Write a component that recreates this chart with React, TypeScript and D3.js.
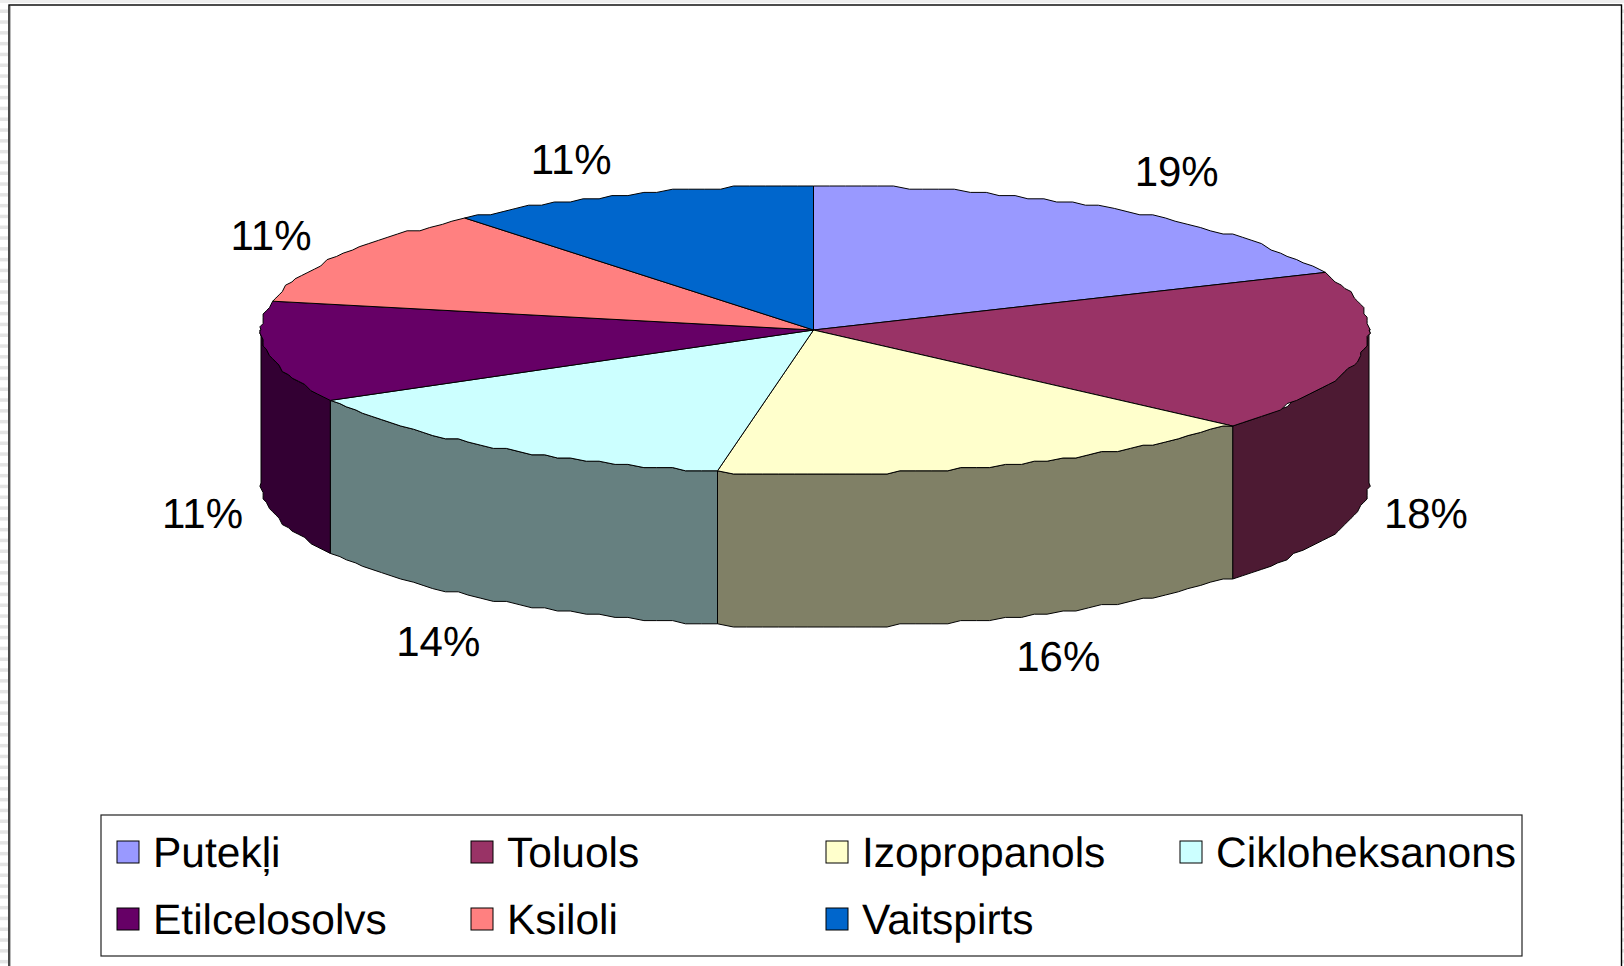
import React from "react";
import * as d3 from "d3";

const categories = ["Putekļi", "Toluols", "Izopropanols", "Cikloheksanons", "Etilcelosolvs", "Ksiloli", "Vaitspirts"];
const values = [18.6, 17.8, 16.4, 14.1, 11.2, 11.0, 10.9];
const percentLabels = ["19%", "18%", "16%", "14%", "11%", "11%", "11%"];
const colors = ["#9999FF", "#993366", "#FFFFCC", "#CCFFFF", "#660066", "#FF8080", "#0066CC"];

const W = 1624, H = 966;
const cx = 813.5, cy = 330, rxRight = 555.5, rxLeft = 552.5, ry = 144, depth = 153;
const SNAP = 3.2;
const STEP = Math.PI / 110;
const FONT = "'Liberation Sans', Arial, sans-serif";

// label offset from the rim point at the slice's middle angle (layout only)
const labelOffsets: [number, number][] = [[46.8, -15.3], [46, 3.4], [53.9, 11.3], [-42.5, 17.6], [-44.5, 3.1], [-50.7, -6.2], [-49.7, -9.3]];

const snap = (v: number) => Math.round(v / SNAP) * SNAP;
const rimX = (a: number) => {
  const s = Math.sin(a);
  return cx + (s < 0 ? rxLeft : rxRight) * s;
};
const rimY = (a: number) => cy - ry * Math.cos(a);

const samples = (a0: number, a1: number) => {
  const n = Math.max(2, Math.ceil(Math.abs(a1 - a0) / STEP));
  const pts = d3.range(n + 1).map((i) => a0 + ((a1 - a0) * i) / n);
  [Math.PI / 2, (3 * Math.PI) / 2].forEach((q) => {
    if (q > a0 && q < a1) pts.push(q);
  });
  return pts.sort((p, q) => p - q);
};
const rim = (a: number): [number, number] => {
  const sideways = Math.abs(Math.cos(a)) < 1e-9;
  return [sideways ? rimX(a) : cx + snap(rimX(a) - cx), cy + snap(rimY(a) - cy)];
};
const line = d3.line<[number, number]>().x((d) => d[0]).y((d) => d[1]);

const pieGen = d3.pie<number>().sort(null).value((d) => d);
const arcs = pieGen(values);

const darken = (c: string) => {
  const r = d3.rgb(c);
  return d3.rgb(r.r * 0.5, r.g * 0.5, r.b * 0.5).formatHex();
};

const columnsX = [117, 471, 826, 1180];
const rowsY = [841, 908];
const legendTextGap = 36;
const stripes = d3.range(9.5, H, 10.8);

export default function App() {
  const walls = arcs
    .map((a, i) => {
      const s = Math.max(a.startAngle, Math.PI / 2);
      const e = Math.min(a.endAngle, (3 * Math.PI) / 2);
      if (e <= s) return null;
      const top = samples(s, e).map(rim);
      const bottom = top.map(([x, y]) => [x, y + depth] as [number, number]).reverse();
      return { i, d: line([...top, ...bottom])! + "Z" };
    })
    .filter(Boolean) as { i: number; d: string }[];

  return (
    <svg width={W} height={H} style={{ position: "fixed", left: 0, top: 0, display: "block", background: "#fff" }}>
      <rect x={0} y={0} width={W} height={3} fill="#eeeeee" />
      {stripes.map((y) => (
        <g key={y}>
          <rect x={0} y={y} width={8} height={3.5} fill="#e4e4e4" />
          <rect x={1622} y={y} width={2} height={3.5} fill="#e4e4e4" />
        </g>
      ))}
      <rect x={9} y={5} width={1612.5} height={H + 20} fill="#fff" stroke="#000" strokeWidth={1.4} />
      <line x1={10.5} x2={10.5} y1={6} y2={H} stroke="#b8b8b8" strokeWidth={1} />

      {walls.map((w) => (
        <path key={w.i} d={w.d} fill={darken(colors[w.i])} stroke="#000" strokeWidth={1} strokeLinejoin="round" />
      ))}
      {arcs.map((a, i) => {
        const pts = samples(a.startAngle, a.endAngle).map(rim);
        return (
          <path
            key={i}
            d={line([[cx, cy], ...pts])! + "Z"}
            fill={colors[i]}
            stroke="#000"
            strokeWidth={1}
            strokeLinejoin="round"
          />
        );
      })}

      {arcs.map((a, i) => {
        const mid = (a.startAngle + a.endAngle) / 2;
        const front = Math.cos(mid) < 0;
        const x = cx + (rxRight + 18) * Math.sin(mid) + labelOffsets[i][0];
        const y = cy - (ry + 28) * Math.cos(mid) + (front ? depth : 0) + 15 + labelOffsets[i][1];
        return (
          <text key={i} x={x} y={y} textAnchor="middle" fontFamily={FONT} fontSize={42} textRendering="geometricPrecision" fill="#000">
            {percentLabels[i]}
          </text>
        );
      })}

      <rect x={101} y={815} width={1421} height={141} fill="#fff" stroke="#222" strokeWidth={1.2} />
      {categories.map((c, i) => {
        const x = columnsX[i % 4];
        const y = rowsY[Math.floor(i / 4)];
        return (
          <g key={c}>
            <rect x={x} y={y} width={22} height={22} fill={colors[i]} stroke="#000" strokeWidth={1} />
            <text x={x + legendTextGap} y={y + 26} fontFamily={FONT} fontSize={42.5} textRendering="geometricPrecision" fill="#000">
              {c}
            </text>
          </g>
        );
      })}
    </svg>
  );
}
